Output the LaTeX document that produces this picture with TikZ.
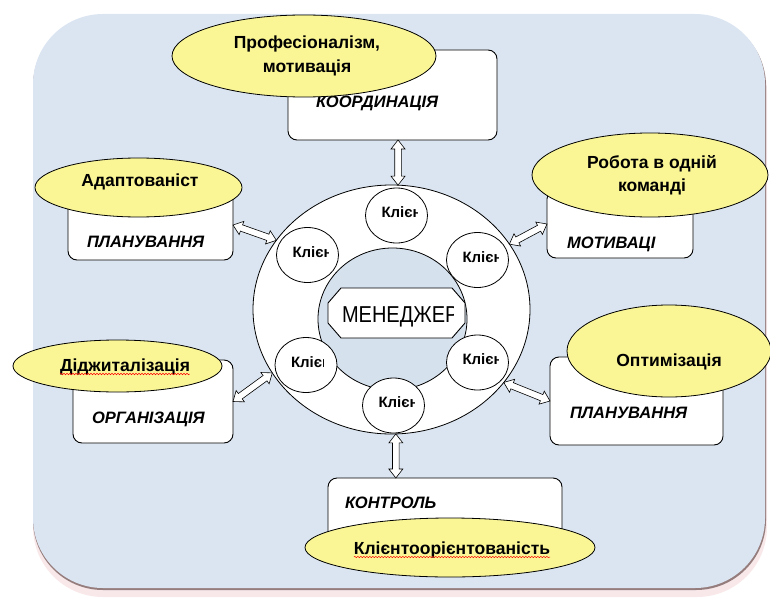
\documentclass[tikz,border=0pt]{standalone}
\usepackage{fontspec}
\setmainfont{Liberation Sans}
\usetikzlibrary{calc,shapes.geometric,decorations.pathmorphing}
\definecolor{bgblue}{RGB}{219,229,241}
\definecolor{innerblue}{RGB}{214,225,238}
\definecolor{ylwc}{RGB}{250,246,150}
\definecolor{shadowpink}{RGB}{248,232,233}
\definecolor{shadowdark}{RGB}{150,125,125}
\newcommand\fsz[2]{\fontsize{#1}{#2}\selectfont}
\newcommand\harrow[2]{%
  \path ($(#1)!9pt!(#2)$) coordinate (hpA) ($(#2)!9pt!(#1)$) coordinate (hpB);
  \draw[arrline] (#1) -- ($(hpA)!7pt!90:(#1)$) -- ($(hpA)!3.3pt!90:(#1)$)
    -- ($(hpB)!3.3pt!-90:(#2)$) -- ($(hpB)!7pt!-90:(#2)$) -- (#2)
    -- ($(hpB)!7pt!90:(#2)$) -- ($(hpB)!3.3pt!90:(#2)$)
    -- ($(hpA)!3.3pt!-90:(#1)$) -- ($(hpA)!7pt!-90:(#1)$) -- cycle;}
\newcommand\clitxt[3]{%
  \begin{scope}
    \clip ($(#1)+(-26,-13)$) rectangle ($(#1)+(#2,11)$);
    \node[clitext, anchor=base west] (#3) at ($(#1)+(-15,2)$) {Клієн};
  \end{scope}}
\tikzset{
  every node/.style={inner sep=0pt, outer sep=0pt},
  yel/.style 2 args={ellipse, draw=black, line width=0.8pt, fill=ylwc,
    minimum width=#1, minimum height=#2},
  wbox/.style 2 args={rectangle, draw=black, line width=0.9pt, fill=white,
    rounded corners=9pt, minimum width=#1, minimum height=#2},
  cli/.style={ellipse, draw=black, line width=0.8pt, fill=white,
    minimum width=62, minimum height=55},
  clitext/.style={font=\fsz{15}{17}\bfseries},
  etext/.style={font=\fsz{17.5}{23.5}\bfseries, align=center},
  btext/.style={font=\fsz{16.5}{19}\bfseries\itshape, anchor=base west},
  arrline/.style={draw=black, line width=0.6pt, fill=white, line join=miter},
  wavy/.style={draw=red, line width=0.5pt, decorate,
    decoration={snake, amplitude=0.7pt, segment length=3pt}}
}
\begin{document}
\begin{tikzpicture}[x=1pt,y=-1pt]
\useasboundingbox (0,0) rectangle (770,599);
% background panel
\fill[shadowpink, rounded corners=70pt] (33,22) rectangle (767,597);
\fill[shadowdark, rounded corners=70pt] (33,16) rectangle (766,590);
\fill[bgblue, rounded corners=70pt] (33,14) rectangle (765,588);

% ring
\node[ellipse, draw=black, line width=0.8pt, fill=white,
  minimum width=277, minimum height=249] (ring) at (391.5,309.5) {};
\node[ellipse, draw=black, line width=0.8pt, fill=innerblue,
  minimum width=149, minimum height=142] (inner) at (392.5,319) {};

% small circles
\node[cli] (c1) at (396.5,215.5) {};
\node[cli] (c2) at (307.5,255) {};
\node[cli] (c3) at (477.5,260) {};
\node[cli] (c4) at (306,365) {};
\node[cli] (c5) at (477.5,362.5) {};
\node[cli] (c6) at (393.5,405.5) {};
\clitxt{c1}{21}{t1}
\clitxt{c2}{21}{t2}
\clitxt{c3}{21}{t3}
\clitxt{c4}{17}{t4}
\clitxt{c5}{21}{t5}
\clitxt{c6}{21}{t6}

% manager
\node[minimum width=137, minimum height=50] (mgr) at (396.5,313) {};
\draw[line width=0.9pt, fill=white]
  ($(mgr.north west)+(13,0)$) -- ($(mgr.north east)+(-13,0)$)
  -- ($(mgr.north east)+(0,15)$) -- ($(mgr.south east)+(0,-15)$)
  -- ($(mgr.south east)+(-13,0)$) -- ($(mgr.south west)+(13,0)$)
  -- ($(mgr.south west)+(0,-15)$) -- ($(mgr.north west)+(0,15)$) -- cycle;
\begin{scope}
  \clip (330,290) rectangle (453,336);
  \node[font=\fsz{20}{22}, anchor=base west] (tm) at (342,322.5)
    {\scalebox{1}[1.15]{МЕНЕДЖЕР}};
\end{scope}

% boxes
\node[wbox={209}{90}] (boxK) at (392.5,95) {};
\node[wbox={165}{70}] (boxPL) at (150.5,225) {};
\node[wbox={146}{68}] (boxM) at (620,224) {};
\node[wbox={160}{83}] (boxO) at (153,401.5) {};
\node[wbox={173}{88}] (boxPR) at (636.5,401) {};
\node[wbox={234}{62}] (boxC) at (445,509) {};
\node[btext] (lK) at (316,107) {КООРДИНАЦІЯ};
\node[btext] (lPL) at (87,247) {ПЛАНУВАННЯ};
\node[btext] (lM) at (567,248) {МОТИВАЦІ};
\node[btext] (lO) at (92,423) {ОРГАНІЗАЦІЯ};
\node[btext] (lPR) at (570,418) {ПЛАНУВАННЯ};
\node[btext] (lC) at (345,508) {КОНТРОЛЬ};

% yellow ellipses
\node[yel={264}{82}] (eP) at (304,56) {};
\node[yel={207}{59}] (eA) at (138.5,187.5) {};
\node[yel={236}{84}] (eR) at (650,175) {};
\node[yel={209}{52}] (eD) at (117.5,366) {};
\node[yel={204}{92}] (eO) at (669,351) {};
\node[yel={290}{59}] (eK) at (450,547.5) {};
\node[etext] (tP) at (307,56) {Професіоналізм,\\мотивація};
\node[etext, anchor=base] (tA) at (140,186) {Адаптованіст};
\node[etext] (tR) at (652,175) {Робота в одній\\команді};
\node[etext, anchor=base] (tD) at (125,371) {Діджиталізація};
\node[etext, anchor=base] (tO) at (669,366) {Оптимізація};
\node[etext, anchor=base] (tK) at (452,554) {Клієнтоорієнтованість};
\draw[wavy] ([yshift=-3pt]tD.base west) -- ([yshift=-3pt]tD.base east);
\draw[wavy] ([yshift=-3pt]tK.base west) -- ([yshift=-3pt]tK.base east);

% connectors
\coordinate (aTop) at (boxK.south -| ring.87.5);
\coordinate (aBot) at (boxC.north -| ring.-88.4);
\harrow{aTop}{ring.87.5}
\harrow{ring.-88.4}{aBot}
\harrow{boxPL.east}{ring.149}
\harrow{ring.29}{boxM.west}
\harrow{boxO.east}{ring.208}
\harrow{ring.-33}{boxPR.west}
\end{tikzpicture}
\end{document}
